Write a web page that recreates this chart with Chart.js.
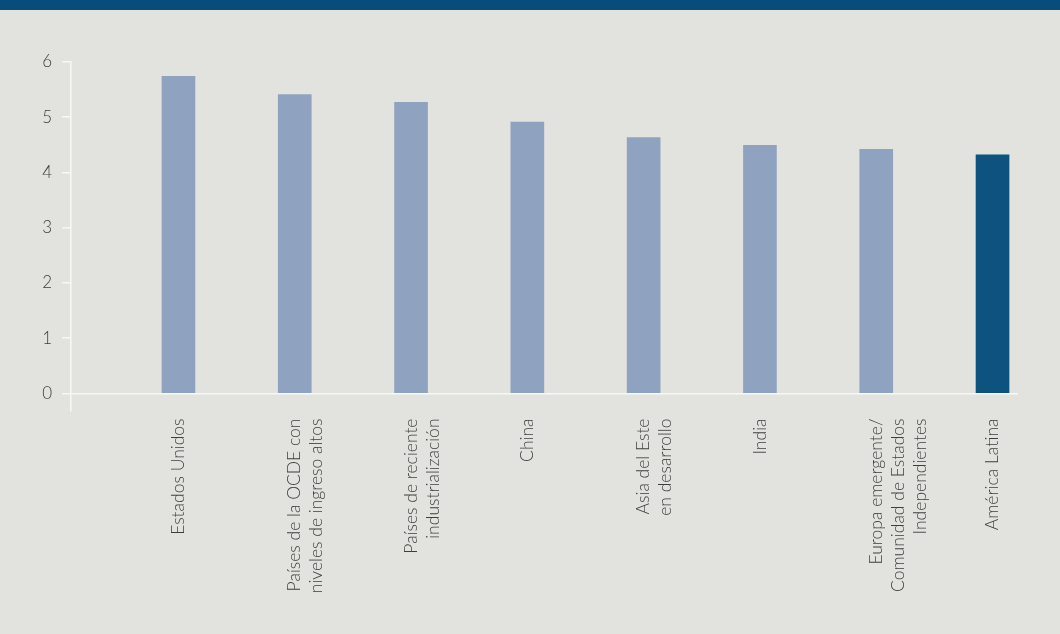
<!DOCTYPE html>
<html>
<head>
<meta charset="utf-8">
<script src="https://cdn.jsdelivr.net/npm/chart.js@4.4.1/dist/chart.umd.min.js"></script>
<style>
  html, body { margin: 0; padding: 0; background: #e2e2de; }
  .band { position: absolute; left: 0; top: 0; width: 1060px; height: 10px; background: #074c7b; }
  .wrap { position: absolute; left: 0; top: 0; width: 1060px; height: 634px; }
</style>
</head>
<body>
<div class="wrap"><canvas id="myChart" width="1060" height="634"></canvas></div>
<div class="band"></div>
<script>
var categories = [
    ['Estados Unidos'],
    ['Países de la OCDE con', 'niveles de ingreso altos'],
    ['Países de reciente', 'industrialización'],
    ['China'],
    ['Asia del Este', 'en desarrollo'],
    ['India'],
    ['Europa emergente/', 'Comunidad de Estados', 'Independientes'],
    ['América Latina']
];
var values = [5.74, 5.41, 5.27, 4.91, 4.63, 4.49, 4.42, 4.32];
var barColors = ['#8fa3c0', '#8fa3c0', '#8fa3c0', '#8fa3c0', '#8fa3c0', '#8fa3c0', '#8fa3c0', '#0e527f'];
var yTicks = [0, 1, 2, 3, 4, 5, 6];

var axisWhite = '#f7f7f4';
var textColor = '#3d3d3d';
var fontFamily = "Lato, 'Open Sans', sans-serif";

// bars sit on a linear x scale so the first bar can stand clear of the y axis
var points = values.map(function (v, i) { return { x: i + 1, y: v }; });

function createChart() {
    var ctx = document.getElementById('myChart').getContext('2d');
    new Chart(ctx, {
        type: 'bar',
        data: {
            datasets: [{
                data: points,
                backgroundColor: barColors,
                barThickness: 33,
                borderWidth: 0
            }]
        },
        options: {
            responsive: false,
            animation: false,
            layout: { padding: { top: 62, right: 42, left: 0, bottom: 0 } },
            plugins: { legend: { display: false }, tooltip: { enabled: false } },
            scales: {
                x: {
                    type: 'linear',
                    offset: false,
                    min: 0.076,
                    max: 8.219,
                    afterBuildTicks: function (axis) {
                        axis.ticks = categories.map(function (c, i) { return { value: i + 1 }; });
                    },
                    afterFit: function (axis) { axis.height = 223.5; },
                    grid: { display: false, offset: false },
                    border: { display: false },
                    ticks: {
                        autoSkip: false,
                        minRotation: 90,
                        maxRotation: 90,
                        padding: 0,
                        color: textColor,
                        font: { family: fontFamily, size: 17.5, weight: 300, lineHeight: 1.25 },
                        callback: function (value, index) { return categories[index]; }
                    }
                },
                y: {
                    min: -0.31,
                    max: 6,
                    afterBuildTicks: function (axis) {
                        axis.ticks = yTicks.map(function (v) { return { value: v }; });
                    },
                    afterFit: function (axis) { axis.width = 71; },
                    border: { display: true, color: axisWhite, width: 1.5 },
                    grid: {
                        color: function (c) { return c.tick && c.tick.value === 0 ? axisWhite : 'rgba(0,0,0,0)'; },
                        tickColor: axisWhite,
                        tickLength: 9,
                        lineWidth: 1.5
                    },
                    ticks: {
                        padding: 10,
                        color: textColor,
                        font: { family: fontFamily, size: 17, weight: 300 }
                    }
                }
            }
        }
    });
}

createChart();
</script>
</body>
</html>
